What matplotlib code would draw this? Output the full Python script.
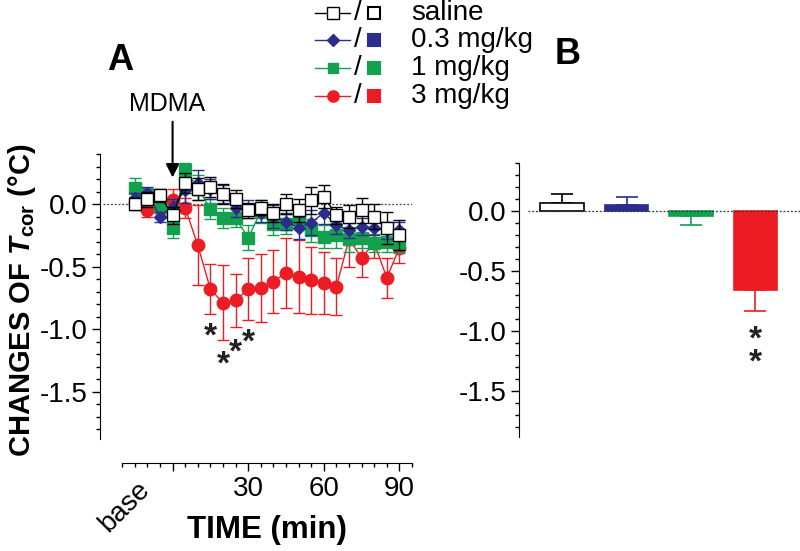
import numpy as np
import matplotlib
matplotlib.use("Agg")
import matplotlib.pyplot as plt
from matplotlib.lines import Line2D

plt.rcParams["font.family"] = ["Liberation Sans", "DejaVu Sans"]
plt.rcParams["mathtext.fontset"] = "custom"
plt.rcParams["mathtext.rm"] = "Liberation Sans:bold"
plt.rcParams["mathtext.it"] = "Liberation Sans:bold:italic"
plt.rcParams["mathtext.bf"] = "Liberation Sans:bold"

# time course (panel A), minutes relative to MDMA injection
times = [-15, -10, -5, 0, 5, 10, 15, 20, 25, 30, 35, 40, 45, 50, 55, 60, 65, 70, 75, 80, 85, 90]

saline = [0.00, 0.04, 0.07, -0.09, 0.17, 0.12, 0.14, 0.08, 0.04, -0.05, -0.03, -0.07,
          0.00, -0.05, 0.03, 0.06, -0.09, -0.10, -0.05, -0.10, -0.19, -0.25]
saline_sem = [0.05, 0.06, 0.05, 0.07, 0.08, 0.09, 0.08, 0.08, 0.07, 0.06, 0.06, 0.07,
              0.08, 0.09, 0.11, 0.09, 0.07, 0.09, 0.10, 0.10, 0.13, 0.12]

dose03 = [0.05, 0.09, -0.10, -0.02, 0.11, 0.17, 0.12, 0.08, -0.03, -0.04, -0.07, -0.10,
          -0.14, -0.19, -0.15, -0.07, -0.17, -0.21, -0.18, -0.19, -0.21, -0.21]
dose03_sem = [0.04, 0.05, 0.04, 0.06, 0.10, 0.10, 0.08, 0.07, 0.07, 0.07, 0.07, 0.09,
              0.07, 0.09, 0.10, 0.09, 0.07, 0.06, 0.07, 0.06, 0.07, 0.07]

dose1 = [0.13, 0.07, -0.01, -0.19, 0.27, 0.13, -0.04, -0.11, -0.11, -0.27, -0.06, -0.16,
         -0.16, -0.11, -0.21, -0.26, -0.25, -0.28, -0.27, -0.31, -0.30, -0.31]
dose1_sem = [0.08, 0.06, 0.06, 0.08, 0.06, 0.10, 0.08, 0.08, 0.07, 0.10, 0.09, 0.09,
             0.08, 0.09, 0.09, 0.09, 0.10, 0.10, 0.08, 0.07, 0.08, 0.08]

dose3 = [0.01, -0.05, -0.02, 0.03, -0.03, -0.33, -0.68, -0.79, -0.77, -0.68, -0.67, -0.62,
         -0.55, -0.58, -0.61, -0.63, -0.66, -0.28, -0.43, -0.31, -0.59, -0.35]
dose3_sem = [0.05, 0.05, 0.05, 0.09, 0.08, 0.32, 0.20, 0.30, 0.21, 0.25, 0.27, 0.25,
             0.28, 0.29, 0.27, 0.25, 0.23, 0.22, 0.15, 0.12, 0.16, 0.12]

# significance marks in panel A
star_times = [15, 20, 25, 30]
star_levels = [-1.06, -1.29, -1.19, -1.11]

# mean change (panel B)
groups = ["saline", "0.3 mg/kg", "1 mg/kg", "3 mg/kg"]
bar_means = [0.07, 0.05, -0.04, -0.66]
bar_sem = [0.07, 0.07, 0.08, 0.17]
bar_star_level = -1.17

colors = ["black", "#2a2d8c", "#13a04f", "#ec1c24"]
line_markers = ["s", "D", "s", "o"]
marker_faces = ["white", colors[1], colors[2], colors[3]]
marker_sizes = [9.0, 6.5, 8.0, 9.0]

fig = plt.figure(figsize=(8, 5.51), dpi=100)
W, H = 800, 551


def px_rect(left, top, right, bottom):
    return [left / W, 1 - bottom / H, (right - left) / W, (bottom - top) / H]


# ---- panel A ----
axA = fig.add_axes(px_rect(100, 154, 412, 463))
series = [(saline, saline_sem), (dose03, dose03_sem), (dose1, dose1_sem), (dose3, dose3_sem)]
for i in [3, 2, 1, 0]:
    vals, err = series[i]
    axA.errorbar(times, vals, yerr=err, color=colors[i], marker=line_markers[i],
                 mfc=marker_faces[i], mec=colors[i], ms=marker_sizes[i], lw=1.0,
                 elinewidth=1.0, capsize=4.5, capthick=1.0, zorder=3 + (3 - i))

axA.axhline(0, xmin=0.01, color="#444444", lw=0.9, ls=(0, (1.5, 1.5)), zorder=1)
axA.set_xlim(-28.8, 95)
axA.set_ylim(-2.07, 0.4)
axA.spines["top"].set_visible(False)
axA.spines["right"].set_visible(False)
axA.spines["left"].set_bounds(-1.88, 0.4)
axA.spines["bottom"].set_bounds(-20, 95)
axA.set_xticks([0, 30, 60, 90])
axA.set_xticklabels(["", "30", "60", "90"])
axA.set_xticks(np.arange(-20, 96, 5), minor=True)
axA.set_yticks([0.0, -0.5, -1.0, -1.5])
axA.set_yticklabels(["0.0", "-0.5", "-1.0", "-1.5"])
axA.set_yticks(np.arange(-1.8, 0.41, 0.1), minor=True)
axA.tick_params(axis="both", which="major", direction="out", length=6, width=1,
                labelsize=20, pad=3)
axA.tick_params(axis="both", which="minor", direction="out", length=3, width=1)
axA.text(-14.5, -0.045, "base", transform=axA.get_xaxis_transform(), rotation=45,
         ha="right", va="top", fontsize=20, rotation_mode="anchor")

for t, lev in zip(star_times, star_levels):
    axA.text(t, lev, "*", ha="center", va="center", fontsize=24, fontweight="bold",
             color="#222222")

axA.annotate("", xy=(0, 0.19), xytext=(0, 0.68),
             arrowprops=dict(arrowstyle="-|>", color="black", lw=1.5,
                             mutation_scale=20), annotation_clip=False)
axA.text(-2, 0.80, "MDMA", ha="center", va="center", fontsize=18)

fig.text(22 / W, 1 - 300 / H, r"CHANGES OF $T_{\mathrm{cor}}$ (°C)", rotation=90,
         ha="center", va="center", fontsize=21, fontweight="bold")
fig.text(267 / W, 1 - 530 / H, "TIME (min)", ha="center", va="center",
         fontsize=22.5, fontweight="bold")

# ---- panel B ----
axB = fig.add_axes(px_rect(519, 163, 800, 437))
xpos = np.arange(len(groups))
for i in range(len(groups)):
    up = bar_sem[i] if bar_means[i] >= 0 else 0
    down = bar_sem[i] if bar_means[i] < 0 else 0
    face = "white" if i == 0 else colors[i]
    axB.bar(xpos[i], bar_means[i], width=0.68, color=face, edgecolor=colors[i],
            lw=1.2, zorder=2)
    axB.errorbar(xpos[i], bar_means[i], yerr=[[down], [up]], color=colors[i],
                 elinewidth=1.2, capsize=8, capthick=1.2, fmt="none", zorder=1)
axB.axhline(0, xmin=0.032, color="#333333", lw=0.9, ls=(0, (1.5, 1.5)), zorder=3)
axB.text(xpos[3], bar_star_level, "*\n*", ha="center", va="center", fontsize=24,
         fontweight="bold", color="#222222", linespacing=0.65)

axB.set_xlim(-0.667, 3.69)
axB.set_ylim(-1.88, 0.4)
for s in ["top", "right", "bottom"]:
    axB.spines[s].set_visible(False)
axB.set_xticks([])
axB.set_yticks([0.0, -0.5, -1.0, -1.5])
axB.set_yticklabels(["0.0", "-0.5", "-1.0", "-1.5"])
axB.set_yticks(np.arange(-1.8, 0.41, 0.1), minor=True)
axB.tick_params(axis="y", which="major", direction="out", length=6, width=1,
                labelsize=20, pad=3)
axB.tick_params(axis="y", which="minor", direction="out", length=3, width=1)

# ---- panel letters ----
fig.text(120 / W, 1 - 60 / H, "A", ha="center", va="center", fontsize=26,
         fontweight="bold")
fig.text(568 / W, 1 - 55 / H, "B", ha="center", va="center", fontsize=26,
         fontweight="bold")

# ---- legend (line symbol / bar symbol) ----
rows_y = [13, 40, 68, 96]
for i, name in enumerate(groups):
    y = 1 - rows_y[i] / H
    fig.add_artist(Line2D([315 / W, 350 / W], [y, y], color=colors[i], lw=1.0,
                          transform=fig.transFigure))
    fig.add_artist(Line2D([332.5 / W], [y], color=colors[i], marker=line_markers[i],
                          mfc=marker_faces[i], mec=colors[i], ms=marker_sizes[i] * 0.9,
                          lw=0, transform=fig.transFigure))
    fig.text(358 / W, y, "/", ha="center", va="center", fontsize=20)
    fig.add_artist(Line2D([374 / W], [y], marker="s",
                          mfc="white" if i == 0 else colors[i], mec=colors[i],
                          mew=1.5, ms=8, lw=0, transform=fig.transFigure))
    fig.text(411 / W, y, name, ha="left", va="center", fontsize=20)

fig.savefig("out.png", dpi=100)
